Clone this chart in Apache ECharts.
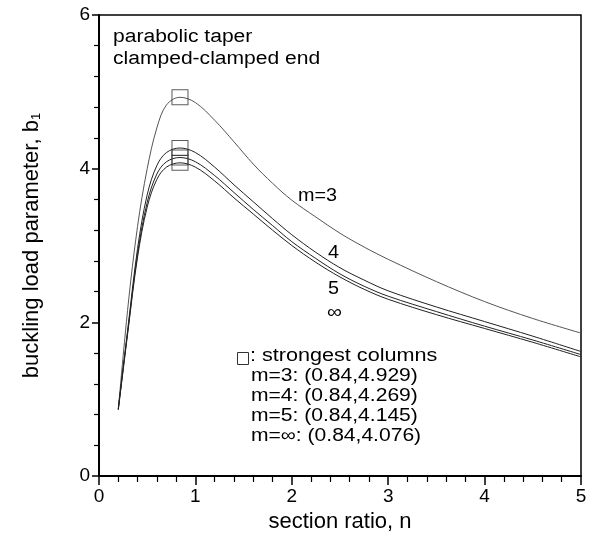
<!DOCTYPE html>
<html>
<head>
<meta charset="utf-8">
<script src="https://fastly.jsdelivr.net/npm/echarts@6/dist/echarts.min.js"></script>
<style>
  html, body { margin: 0; padding: 0; background: #fff; }
  #chart { width: 597px; height: 541px; }
</style>
</head>
<body>
<div id="chart"></div>
<script>
// section ratio n
const nValues = [0.2, 0.3, 0.4, 0.5, 0.6, 0.7, 0.84, 1.0, 1.2, 1.4, 1.6, 1.8, 2.0, 2.25, 2.5, 2.75, 3.0, 3.5, 4.0, 4.5, 5.0];
// buckling load parameter b1 per m
const bM3   = [0.86, 2.20, 3.25, 4.00, 4.53, 4.83, 4.929, 4.86, 4.63, 4.35, 4.06, 3.81, 3.59, 3.37, 3.16, 2.98, 2.82, 2.53, 2.27, 2.05, 1.86];
const bM4   = [0.88, 1.93, 2.96, 3.66, 4.04, 4.21, 4.269, 4.21, 4.02, 3.79, 3.57, 3.35, 3.14, 2.91, 2.71, 2.55, 2.41, 2.20, 2.01, 1.82, 1.62];
const bM5   = [0.87, 1.90, 2.89, 3.56, 3.93, 4.09, 4.145, 4.09, 3.91, 3.69, 3.47, 3.26, 3.05, 2.83, 2.63, 2.47, 2.34, 2.14, 1.95, 1.77, 1.58];
const bMinf = [0.86, 1.88, 2.85, 3.50, 3.86, 4.02, 4.076, 4.02, 3.84, 3.62, 3.41, 3.20, 3.00, 2.78, 2.59, 2.43, 2.30, 2.10, 1.92, 1.74, 1.55];
// strongest columns
const peakN = [0.84, 0.84, 0.84, 0.84];
const peakB = [4.929, 4.269, 4.145, 4.076];
const peakText = [
  'm=3: (0.84,4.929)',
  'm=4: (0.84,4.269)',
  'm=5: (0.84,4.145)',
  'm=\u221E: (0.84,4.076)'
];

const FONT = '"Liberation Sans", Arial, Helvetica, sans-serif';
const chart = echarts.init(document.getElementById('chart'), null, { renderer: 'canvas' });

function curve(vals, color) {
  return {
    type: 'line',
    data: nValues.map((n, i) => [n, vals[i]]),
    smooth: 0.35,
    showSymbol: false,
    silent: true,
    lineStyle: { color: color, width: 1 },
    z: 3
  };
}

// scanned original has wide lettering, so stretch the texts a little
const txt = (x, y, s, size, sx) => ({
  type: 'text', left: x, top: y, scaleX: sx || 1.17, originX: 0,
  style: { text: s, font: (size || 18) + 'px ' + FONT, fill: '#000' }
});

const graphics = [
  txt(113, 28, 'parabolic taper'),
  txt(113, 50, 'clamped-clamped end'),
  txt(298, 187, 'm=3', 18, 1.1),
  txt(328, 244, '4', 18, 1.1),
  txt(328, 280, '5', 18, 1.1),
  txt(327, 303, '\u221E', 19, 1.1),
  { type: 'rect', left: 235, top: 350, shape: { width: 11, height: 12 },
    style: { fill: 'none', stroke: '#333', lineWidth: 1 } },
  txt(250, 347, ': strongest columns', 18, 1.2)
];
peakText.forEach((s, i) => graphics.push(txt(251, 367 + i * 20, s)));

const option = {
  animation: false,
  backgroundColor: '#fff',
  grid: {
    left: 99, right: 16, top: 15, bottom: 65,
    show: true, borderColor: '#000', borderWidth: 1.5
  },
  xAxis: {
    type: 'value', min: 0, max: 5, interval: 1,
    name: 'section ratio, n', nameLocation: 'middle', nameGap: 33,
    nameTextStyle: { fontFamily: FONT, fontSize: 22, color: '#000' },
    axisLine: { show: true, lineStyle: { color: '#000', width: 2 } },
    axisTick: { show: true, length: 9, lineStyle: { color: '#000', width: 1.5 } },
    minorTick: { show: true, splitNumber: 5, length: 6, lineStyle: { color: '#000', width: 1.2 } },
    axisLabel: { fontFamily: FONT, fontSize: 19, color: '#000', margin: 11 },
    splitLine: { show: false }
  },
  yAxis: {
    type: 'value', min: 0, max: 6, interval: 2,
    name: 'buckling load parameter, b{s|1}', nameLocation: 'middle', nameGap: 56,
    nameTextStyle: {
      fontFamily: FONT, fontSize: 22, color: '#000',
      rich: { s: { fontFamily: FONT, fontSize: 13, color: '#000', verticalAlign: 'bottom', padding: [9, 0, 0, 0] } }
    },
    axisLine: { show: true, lineStyle: { color: '#000', width: 2 } },
    axisTick: { show: true, length: 7, lineStyle: { color: '#000', width: 1.5 } },
    minorTick: { show: true, splitNumber: 5, length: 5, lineStyle: { color: '#000', width: 1.2 } },
    axisLabel: { fontFamily: FONT, fontSize: 19, color: '#000', margin: 9 },
    splitLine: { show: false }
  },
  series: [
    curve(bM3, '#555'),
    curve(bM4, '#222'),
    curve(bM5, '#222'),
    curve(bMinf, '#222'),
    {
      type: 'scatter',
      data: peakN.map((n, i) => [n, peakB[i]]),
      symbol: 'rect',
      symbolSize: [16, 15],
      silent: true,
      itemStyle: { color: 'rgba(255,255,255,0)', borderColor: '#333', borderWidth: 1 },
      z: 4
    }
  ],
  graphic: graphics
};
chart.setOption(option);
</script>
</body>
</html>
